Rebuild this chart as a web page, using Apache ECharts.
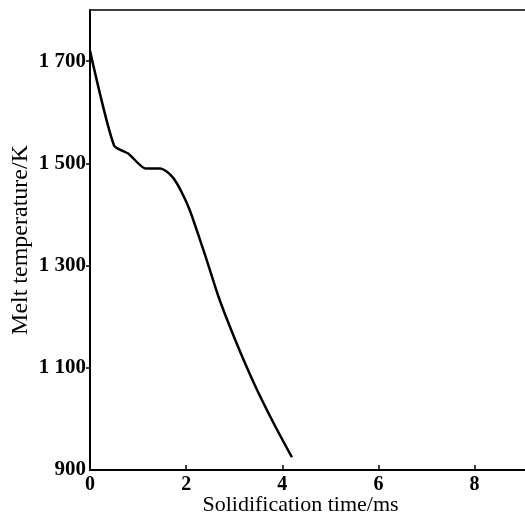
<!DOCTYPE html>
<html>
<head>
<meta charset="utf-8">
<script src="https://cdn.jsdelivr.net/npm/echarts@6/dist/echarts.min.js"></script>
<style>
  html, body { margin: 0; padding: 0; background: #fff; }
  #chart { width: 525px; height: 524px; }
</style>
</head>
<body>
<div id="chart"></div>
<script>
// curve: solidification time (ms), melt temperature (K)
var timeMs = [0, 0.5, 0.81, 1.15, 1.46, 1.58, 1.70, 1.80, 1.91, 2.02, 2.12, 2.40, 2.67, 3.02, 3.43, 3.84, 4.20];
var tempK = [1720, 1535, 1518, 1490, 1490, 1485, 1475, 1462, 1443, 1421, 1397, 1319, 1240, 1155, 1066, 988, 925];
var xTicks = [0, 2, 4, 6, 8];
var xLabels = [0, 2, 4, 6, 8];
var yTicks = [1100, 1300, 1500, 1700];
var yLabels = [900, 1100, 1300, 1500, 1700];

var points = [];
for (var i = 0; i < timeMs.length; i++) {
  points.push([timeMs[i], tempK[i]]);
}

var font = "Liberation Serif";
var myChart = echarts.init(document.getElementById("chart"));
myChart.setOption({
  animation: false,
  grid: {
    left: 90,
    right: 0,
    top: 10,
    bottom: 54,
    outerBoundsMode: "none",
  },
  xAxis: [
    {
      type: "value",
      min: 0,
      max: 9.05,
      name: "Solidification time/ms",
      nameLocation: "middle",
      nameGap: 24,
      nameMoveOverlap: false,
      nameTextStyle: { color: "#000", fontFamily: font, fontSize: 22, padding: [0, 0, 0, -14] },
      axisLine: { show: true, lineStyle: { color: "#000", width: 2 } },
      axisTick: { show: true, inside: true, length: 5, customValues: xTicks, lineStyle: { color: "#000", width: 1.5 } },
      axisLabel: { customValues: xLabels, color: "#000", fontFamily: font, fontSize: 20, fontWeight: "bold", margin: 5 },
      splitLine: { show: false },
    },
    {
      // top frame line only
      type: "value",
      position: "top",
      min: 0,
      max: 9.05,
      axisLine: { show: true, lineStyle: { color: "#000", width: 1.5 } },
      axisTick: { show: false },
      axisLabel: { show: false },
      splitLine: { show: false },
    },
  ],
  yAxis: {
    type: "value",
    min: 900,
    max: 1800,
    name: "Melt temperature/K",
    nameLocation: "middle",
    nameGap: 57,
    nameMoveOverlap: false,
    nameTextStyle: { color: "#000", fontFamily: font, fontSize: 24 },
    axisLine: { show: true, lineStyle: { color: "#000", width: 2 } },
    axisTick: { show: true, inside: false, length: 4, customValues: yTicks, lineStyle: { color: "#000", width: 1.5 } },
    axisLabel: {
      customValues: yLabels,
      color: "#000",
      fontFamily: font,
      fontSize: 21,
      fontWeight: "bold",
      margin: 4,
      formatter: function (v) {
        return v >= 1000 ? Math.floor(v / 1000) + " " + String(v % 1000).padStart(3, "0") : String(v);
      },
    },
    splitLine: { show: false },
  },
  series: [
    {
      type: "line",
      data: points,
      showSymbol: false,
      smooth: 0.2,
      lineStyle: { color: "#000", width: 2.5 },
    },
  ],
});
</script>
</body>
</html>
